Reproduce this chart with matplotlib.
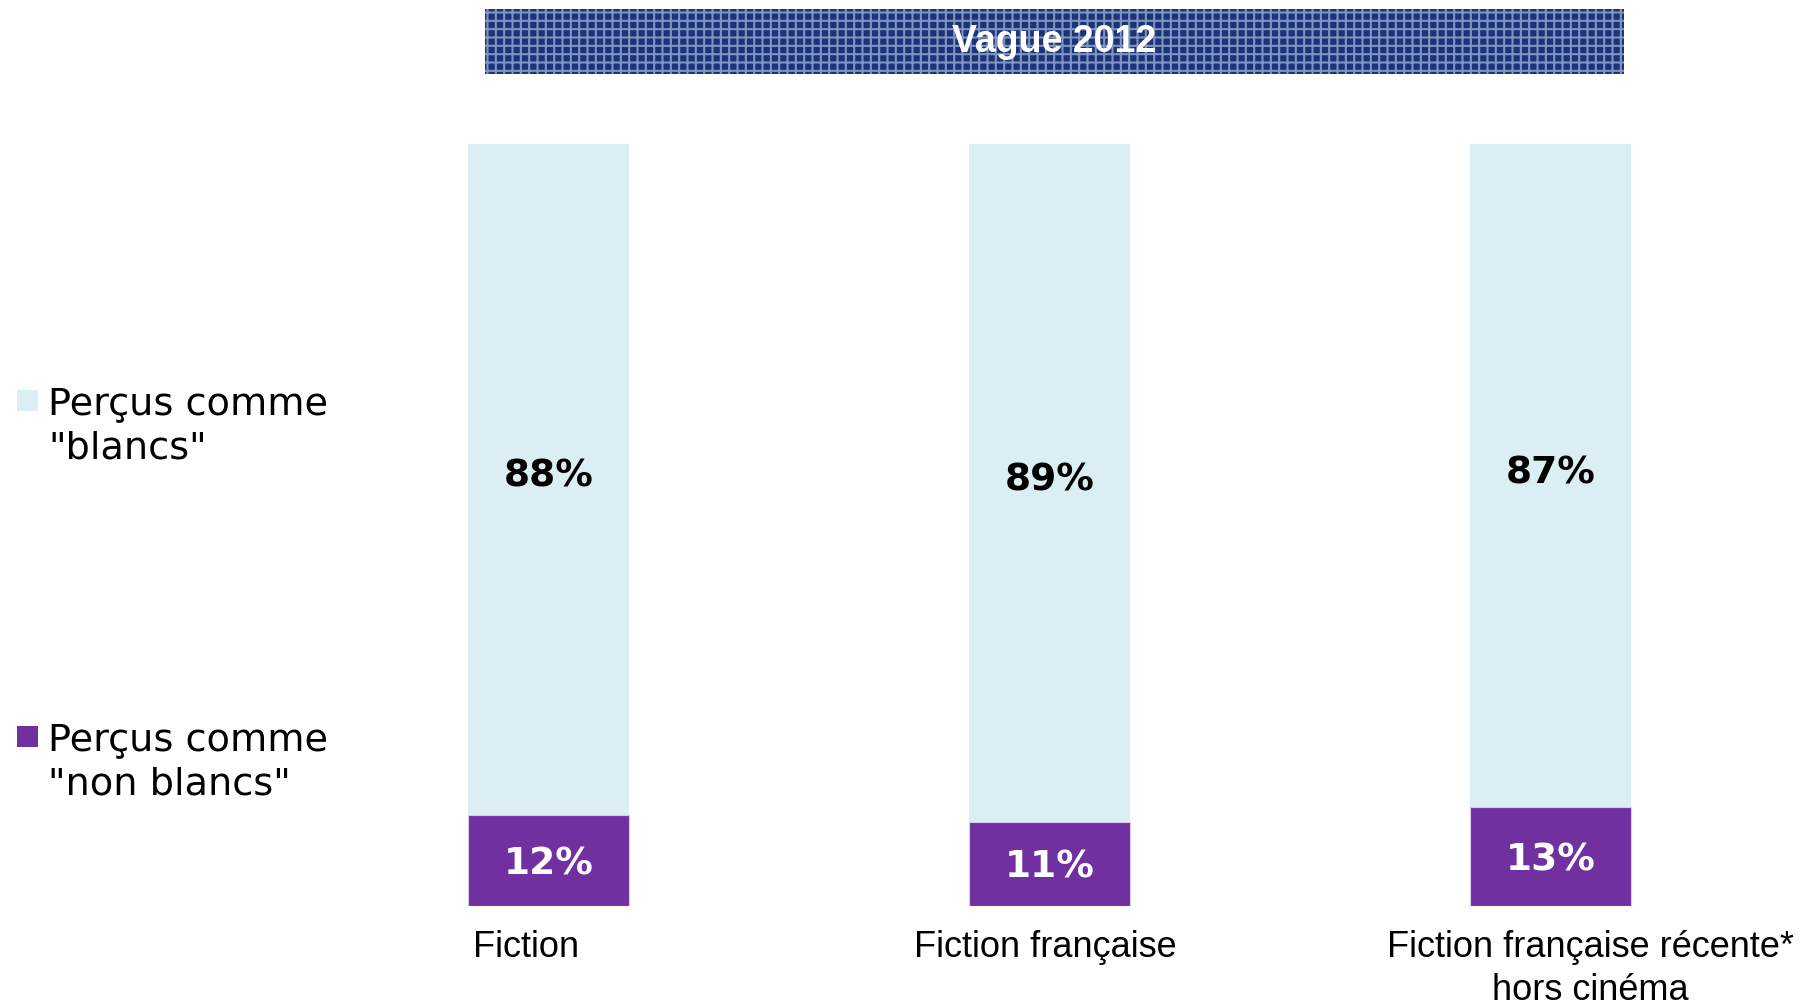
import matplotlib.pyplot as plt
from matplotlib.patches import Rectangle

categories = ["Fiction", "Fiction française", "Fiction française récente*\nhors cinéma"]
non_blancs = [12, 11, 13]
blancs = [88, 89, 87]
series_names = ['Perçus comme\n"blancs"', 'Perçus comme\n"non blancs"']

col_blancs = "#DAEEF3"
col_non = "#7030A0"

W, H = 1803, 1007
fig = plt.figure(figsize=(W / 100, H / 100), dpi=100)

# axes placed in pixel terms: y=0 at 906px, y=100 at 144px
ax = fig.add_axes([298 / W, (H - 906) / H, 1503 / W, 762 / H])
x = list(range(len(categories)))
ax.bar(x, non_blancs, width=0.32, color=col_non, edgecolor="#d9c9ea", linewidth=0.8)
ax.bar(x, blancs, width=0.32, bottom=non_blancs, color=col_blancs, linewidth=0)
ax.set_xlim(-0.5, 2.5)
ax.set_ylim(0, 100)
ax.axis("off")

for i in x:
    ax.text(i, non_blancs[i] / 2 - 0.5, f"{non_blancs[i]}%", ha="center", va="center",
            fontsize=27, fontweight="bold", color="white", family="DejaVu Sans")
    ax.text(i, non_blancs[i] + blancs[i] / 2 + 0.3, f"{blancs[i]}%", ha="center", va="center",
            fontsize=27, fontweight="bold", color="black", family="DejaVu Sans")

# category labels (slightly offset like the original)
label_x = [526, 1045, 1590]
for lx, cat in zip(label_x, categories):
    fig.text(lx / W, 1 - 930 / H, cat, ha="center", va="top", fontsize=26,
             family="Liberation Sans", linespacing=1.3)

# banner
plt.rcParams["hatch.linewidth"] = 1.5
banner = Rectangle((485 / W, (H - 74) / H), 1139 / W, 65 / H, transform=fig.transFigure,
                   facecolor="#1B3478", edgecolor="#8193c0", hatch="++", linewidth=0)
fig.add_artist(banner)
fig.text((485 + 1139 / 2) / W, 1 - 42 / H, "Vague 2012", ha="center", va="center",
         fontsize=27, fontweight="bold", color="white", family="Liberation Sans", zorder=5)

# legend
leg_y = [401, 737]
for (yy, name, c) in zip(leg_y, series_names, [col_blancs, col_non]):
    fig.add_artist(Rectangle((17 / W, 1 - (yy + 10) / H), 21 / W, 21 / H,
                             transform=fig.transFigure, facecolor=c, linewidth=0))
    fig.text(48 / W, 1 - (yy - 15) / H, name, ha="left", va="top", fontsize=27.5,
             family="DejaVu Sans", linespacing=1.3)

fig.savefig("out.png", dpi=100)
